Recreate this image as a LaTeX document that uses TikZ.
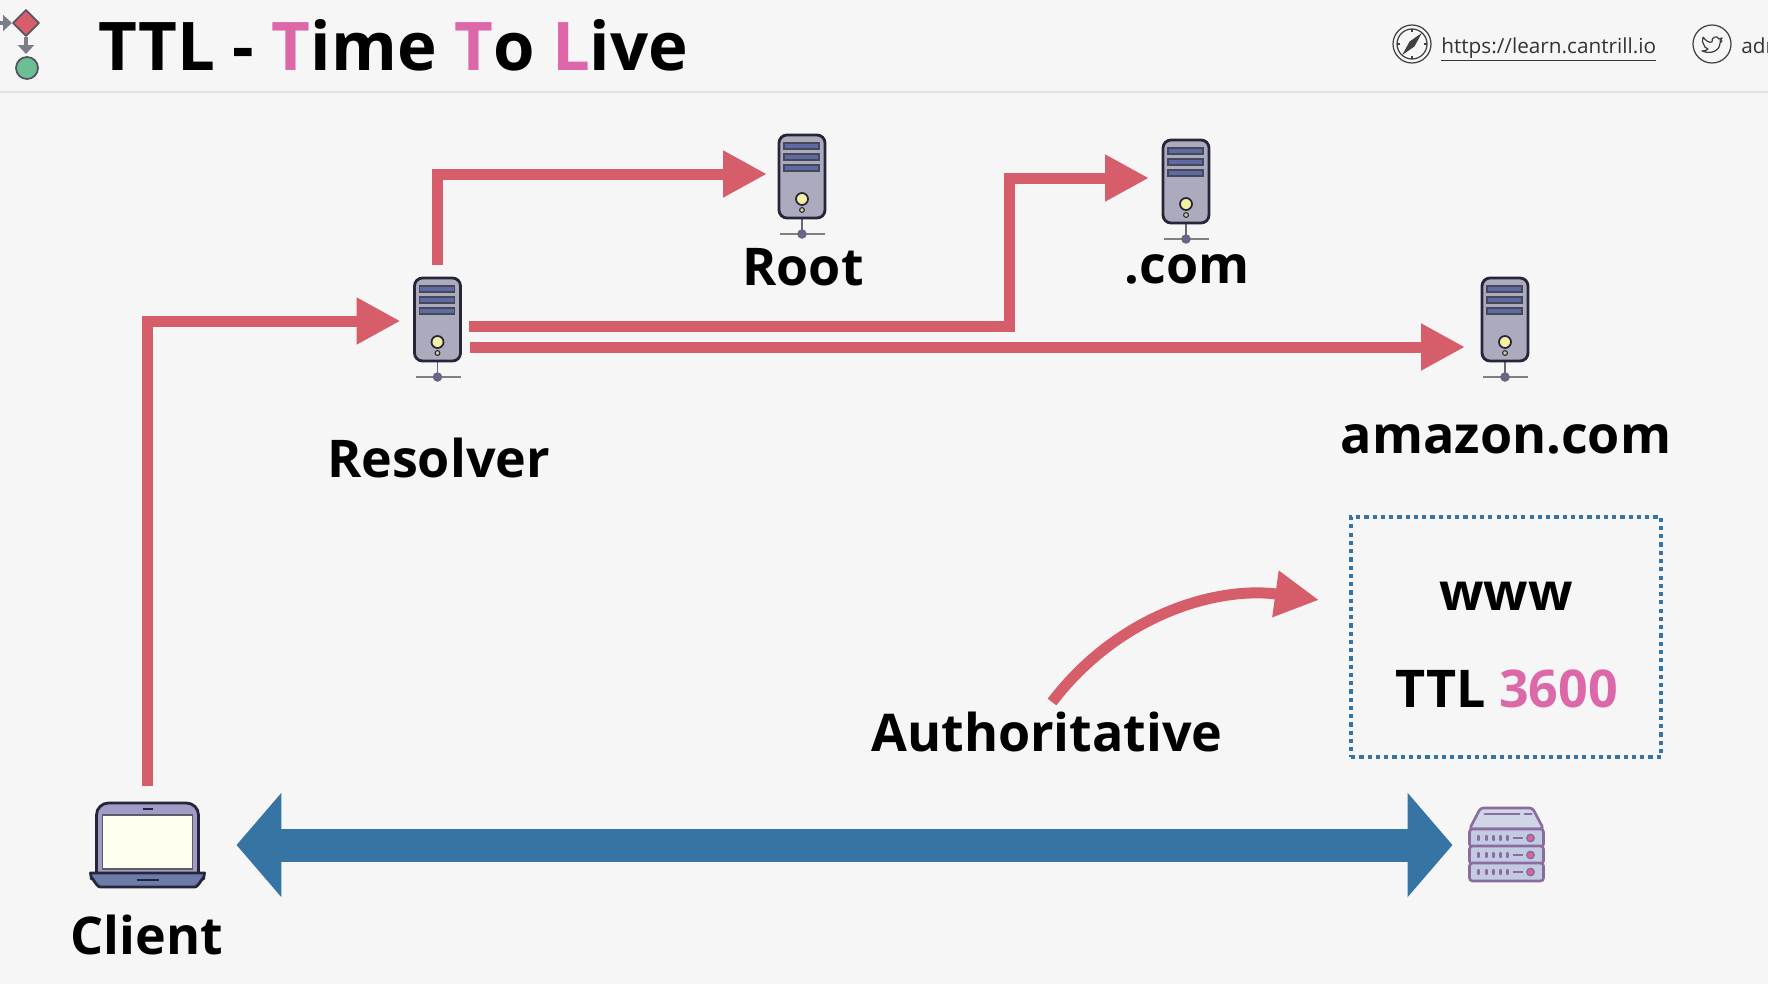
\documentclass[tikz,border=0pt]{standalone}
\usepackage{fontspec}
\setmainfont{Open Sans}
\usetikzlibrary{arrows.meta,calc}

\definecolor{bgcol}{HTML}{F6F6F6}
\definecolor{rulecol}{HTML}{E2E2E2}
\definecolor{redcol}{HTML}{D65D6A}
\definecolor{bluecol}{HTML}{3674A4}
\definecolor{pinkcol}{HTML}{DD68A9}
\definecolor{inkcol}{HTML}{26263A}
\definecolor{plumcol}{HTML}{8B6C9E}
\definecolor{towergray}{HTML}{ACABBD}
\definecolor{slotblue}{HTML}{5C6BA3}
\definecolor{lampcol}{HTML}{F5F0A2}
\definecolor{lidcol}{HTML}{A19CC6}
\definecolor{screencol}{HTML}{FFFFF0}
\definecolor{basecol}{HTML}{6C7CA8}
\definecolor{racktop}{HTML}{D0D6E8}
\definecolor{rackbody}{HTML}{C3CBE2}
\definecolor{logogreen}{HTML}{6CBF94}

\tikzset{
  towerpic/.pic={
    \draw[gray, line width=1.2pt] (-22,55) -- (23,55);
    \draw[inkcol!70, line width=1.1pt] (0,39) -- (0,55);
    \draw[fill=gray!80!blue, draw=inkcol!70, line width=0.8pt] (0,55) circle (4);
    \draw[fill=towergray, draw=inkcol, line width=1.6pt, rounded corners=1.6mm] (-23,-44) rectangle (23,39);
    \foreach \y in {-36,-25,-14}
      \draw[fill=slotblue, draw=inkcol!85, line width=0.9pt] (-18,\y) rectangle (17,\y+6);
    \draw[fill=lampcol, draw=inkcol, line width=1pt] (0,20) circle (6);
    \draw[fill=lampcol!70!gray, draw=inkcol, line width=0.6pt] (0,31) circle (2.4);
  },
  laptoppic/.pic={
    \draw[fill=lidcol, draw=inkcol, line width=1.6pt, rounded corners=2.4mm] (-51,35) -- (-51,-42) -- (51,-42) -- (51,35);
    \draw[fill=screencol, draw=inkcol!75, line width=1pt] (-45,-30) rectangle (45,24);
    \draw[inkcol, line width=0.9pt] (-5,-36) -- (5,-36);
    \draw[fill=basecol, draw=inkcol, line width=1.6pt, line join=round] (-57,28) -- (57,28) -- (56,34) to[out=90,in=0] (47,42) -- (-47,42) to[out=180,in=90] (-56,34) -- cycle;
    \draw[inkcol, line width=0.9pt] (-11,35) -- (11,35);
  },
  rackpic/.pic={
    \draw[fill=racktop, draw=plumcol, line width=1.5pt, line join=round, rounded corners=0.6mm] (-25,-37) -- (-36,-16) -- (38,-16) -- (27,-37) -- cycle;
    \draw[plumcol, line width=1.1pt, line cap=round] (-21,-31) -- (14,-31);
    \draw[plumcol, line width=1.1pt, line cap=round] (19,-31) -- (26,-31);
    \foreach \y in {-16,1,18} {
      \draw[fill=rackbody, draw=plumcol, line width=1.5pt, rounded corners=0.6mm] (-36,\y) rectangle (38,\y+18);
      \foreach \x in {-27,-19,-12,-5,2}
        \draw[plumcol, line width=1.3pt, line cap=round] (\x,\y+7) -- (\x,\y+11);
      \draw[plumcol, line width=1.1pt] (7,\y+9) -- (17,\y+9);
      \draw[fill=pinkcol!70!redcol, draw=plumcol, line width=0.9pt] (25,\y+9) circle (3.6);
    }
  },
}

\begin{document}
\begin{tikzpicture}[x=0.02cm, y=-0.02cm]
    \tikzstyle{tower}=[inner sep=0pt, minimum width=0.96cm, minimum height=1.76cm, outer xsep=0.26cm, outer ysep=0.26cm]
    \tikzstyle{label}=[font=\fontsize{29.6}{34}\selectfont\bfseries, text=black, inner sep=0pt]
    \tikzstyle{edge}=[redcol, line width=0.22cm, -{Triangle[length=0.88cm,width=0.88cm]}]
    \tikzstyle{weblink}=[font=\fontsize{11.8}{14}\selectfont, text=black!80, inner sep=0pt, anchor=base west]
    \tikzstyle{iconline}=[black!75, line width=0.7pt]
    \tikzstyle{flowarrow}=[inkcol!60, line width=1.9pt, -{Triangle[length=1.8mm,width=3.2mm]}]

    \useasboundingbox (0,0) rectangle (1768,984);
    \fill[bgcol] (0,0) rectangle (1768,984);
    \draw[rulecol, line width=0.8pt] (0,92) -- (1768,92);

    % header
    \node[font=\fontsize{38.2}{42}\selectfont\bfseries, inner sep=0pt, anchor=west] (title) at (98,45)
        {TTL - \textcolor{pinkcol}{T}ime \textcolor{pinkcol}{T}o \textcolor{pinkcol}{L}ive};
    \node[weblink] (url) at (1441,53) {\underline{https://learn.cantrill.io}};
    \node[weblink] (handle) at (1741,53) {adr};

    % flow logo
    \draw[flowarrow] (0,23) -- (12,23);
    \draw[flowarrow] (26,37) -- (26,54);
    \draw[fill=redcol, draw=inkcol!80, line width=1pt, line join=round] (26,10) -- (39,23) -- (26,36) -- (13,23) -- cycle;
    \draw[fill=logogreen, draw=inkcol!80, line width=1pt] (27,68) circle (11);

    % compass
    \begin{scope}[shift={(1412,44)}]
        \draw[iconline] (0,0) circle (19) (0,0) circle (15);
        \foreach \a in {0,90,180,270}
            \draw[iconline] (\a:15) -- (\a:12);
        \draw[iconline, fill=black!75] (8,-9) -- (2,2) -- (-8,9) -- (-2,-2) -- cycle;
    \end{scope}
    % bird
    \begin{scope}[shift={(1712,44)}]
        \draw[iconline] (0,0) circle (19);
        \draw[iconline, line join=round] (-9,-7) .. controls (-6,-3) and (-3,-1) .. (0,-2) .. controls (-1,-7) and (5,-9) .. (7,-5)
            -- (10,-6) -- (8,-3) -- (10,-3) -- (8,-1) .. controls (8,6) and (0,11) .. (-10,7)
            .. controls (-7,7) and (-5,6) .. (-4,5) .. controls (-7,4) and (-8,2) .. (-8,1) .. controls (-10,-1) and (-10,-4) .. (-9,-7);
    \end{scope}

    % servers
    \node[tower] (resolver) at (437.5,322) {};
    \node[tower] (root)     at (802,179)   {};
    \node[tower] (com)      at (1186,184)  {};
    \node[tower] (amazon)   at (1505,322)  {};
    \foreach \n in {resolver,root,com,amazon}
        \pic at (\n) {towerpic};

    \node[inner sep=0pt, minimum width=2.32cm, minimum height=1.68cm, outer xsep=0.62cm, outer ysep=0.34cm] (client) at (147.5,845) {};
    \pic at (client) {laptoppic};
    \node[inner sep=0pt, minimum width=1.48cm, minimum height=1.48cm, outer xsep=0.32cm] (rack) at (1505.5,845) {};
    \pic at (rack) {rackpic};

    % labels
    \node[label] (resolverlabel) at (438.5,458)  {Resolver};
    \node[label] (rootlabel)     at (803,267)  {Root};
    \node[label] (comlabel)      at (1187,269) {.com};
    \node[label] (amazonlabel)   at (1506,439) {amazon.com};
    \node[label] (clientlabel)   at (147,935)  {Client};
    \node[label, outer ysep=0.2cm] (authlabel) at (1047,732) {Authoritative};

    % record box
    \node[draw=bluecol, line width=2.3pt, dash pattern=on 2.4pt off 2.3pt, minimum width=6.2cm, minimum height=4.8cm, inner sep=0pt] (record) at (1506,637) {};
    \node[label] (www) at (1506,596) {www};
    \node[label] (ttl) at (1506.5,689) {TTL \textcolor{pinkcol}{3600}};

    % lookups
    \draw[edge] (client.north) |- ($(resolver.west)+(0,-1)$);
    \draw[edge] (resolver.north) |- ($(root.west)+(2,-5)$);
    \draw[edge] ($(resolver.east)+(-5,4)$) -| (1009,178) -- ($(com.west)+(0,-6)$);
    \draw[edge] ($(resolver.east)+(-4,25)$) -- ($(amazon.west)+(-3,25)$);
    \draw[edge] (authlabel.north) ++(5,0) .. controls +(68,-89) and +(-100,-14) .. ($(record.west)+(-30,-37)$);

    \draw[bluecol, line width=0.66cm, {Triangle[length=0.9cm,width=2.04cm]}-{Triangle[length=0.9cm,width=2.04cm]}] (client.east) -- (rack.west);
\end{tikzpicture}
\end{document}
